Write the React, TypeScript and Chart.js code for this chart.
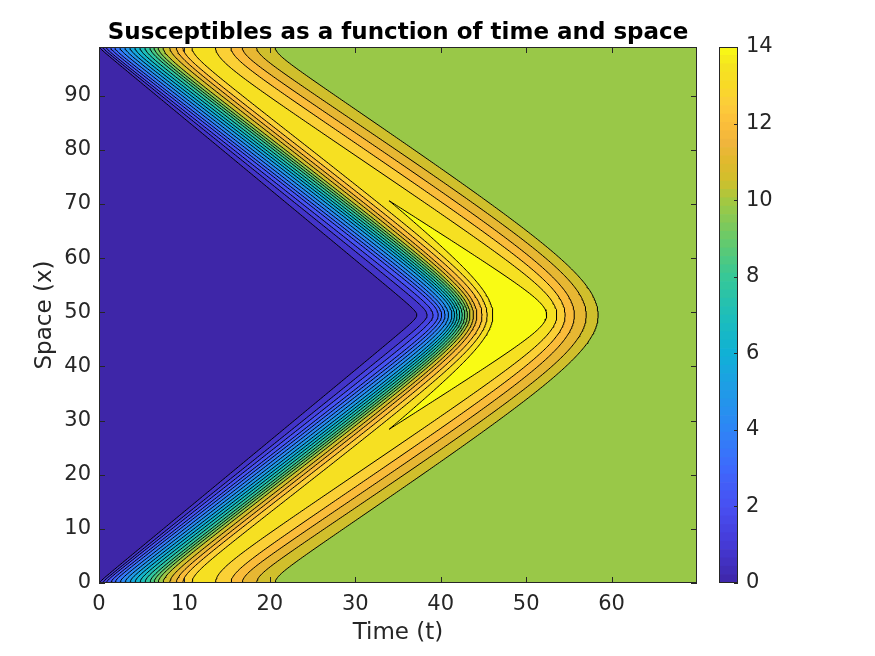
import { useEffect, useRef } from 'react';
import { Chart, registerables } from 'chart.js';

Chart.register(...registerables);

// contourf levels (20 levels between 0 and 14)
const levels = [0.7, 1.4, 2.1, 2.8, 3.5, 4.2, 4.9, 5.6, 6.3, 7.0, 7.7, 8.4, 9.1, 9.8, 10.5, 11.2, 11.9, 12.6, 13.3, 14.0];

// leading front of each level: time where it meets the boundary x = 0 (and x = 99),
// time where it meets the centre x = 49.5, and how round its tip / its foot is (in x units).
// the 14.0 level never reaches the boundary, its foot time is where its line would end.
const riseEdgeT = [0.1, 0.5, 0.9, 1.4, 1.9, 2.5, 3.1, 3.7, 4.3, 4.9, 5.5, 6.1, 6.6, 7.1, 7.7, 8.5, 9.3, 10.1, 11.2, 13.0];
const riseTipT = [37.2, 38.4, 39.1, 39.7, 40.1, 40.5, 40.9, 41.3, 41.6, 41.9, 42.2, 42.5, 42.8, 43.1, 43.4, 43.8, 44.2, 44.8, 45.4, 46.1];
const riseTipRound = [0.8, 1.2, 1.6, 2.0, 2.3, 2.6, 2.9, 3.2, 3.5, 3.7, 3.9, 4.1, 4.3, 4.5, 4.8, 5.1, 5.4, 5.8, 6.2, 6.5];
const riseEdgeRound = [0.3, 0.4, 0.5, 0.6, 0.7, 0.8, 0.9, 1.0, 1.1, 1.2, 1.3, 1.4, 1.5, 1.6, 1.7, 1.8, 1.9, 2.0, 2.0, 0.5];

// trailing front, only for the levels above the steady state (~10)
const fallLevels = [10.5, 11.2, 11.9, 12.6, 13.3, 14.0];
const fallEdgeT = [21.5, 19.2, 17.4, 15.9, 13.9, 5.9];
const fallTipT = [58.4, 57.0, 55.6, 54.5, 53.5, 52.4];
const fallTipRound = [9.5, 8.8, 8.0, 6.8, 5.2, 3.0];
const fallEdgeRound = [1.6, 1.8, 2.0, 2.5, 3.0, 0.3];

const timeTicks = [0, 10, 20, 30, 40, 50, 60];
const spaceTicks = [0, 10, 20, 30, 40, 50, 60, 70, 80, 90];
const colorbarTicks = [0, 2, 4, 6, 8, 10, 12, 14];

const tMax = 70;
const xMax = 99;
const cMax = 14;
const centre = xMax / 2;

const fontFamily = '"DejaVu Sans", sans-serif';
const axisColor = '#262626';

// parula colour stops (value on the 0..14 colour axis, r, g, b)
const parulaStops: number[][] = [
  [0, 62, 38, 168], [1, 69, 58, 214], [2, 72, 80, 242], [3, 62, 105, 252], [4, 46, 133, 246],
  [5, 32, 155, 231], [6, 16, 177, 213], [7, 30, 190, 185], [8, 55, 200, 150], [9, 105, 202, 105],
  [10, 165, 200, 64], [10.5, 208, 191, 44], [11, 225, 185, 45], [11.5, 240, 181, 60], [12, 252, 190, 58],
  [12.5, 252, 205, 58], [13, 248, 218, 38], [13.5, 245, 228, 32], [14, 249, 251, 20],
];

const parula = (v: number): string => {
  const x = Math.max(0, Math.min(cMax, v));
  for (let i = 1; i < parulaStops.length; i++) {
    const a = parulaStops[i - 1];
    const b = parulaStops[i];
    if (x <= b[0]) {
      const f = (x - a[0]) / (b[0] - a[0]);
      const c = [1, 2, 3].map(k => Math.round(a[k] + (b[k] - a[k]) * f));
      return `rgb(${c[0]},${c[1]},${c[2]})`;
    }
  }
  return 'rgb(249,251,20)';
};

// time of a front at distance d from the nearest boundary
const frontTime = (edgeT: number, tipT: number, tipRound: number, edgeRound: number, d: number): number => {
  const s = (tipT - edgeT) / (centre - tipRound - edgeRound);
  const a0 = edgeT - s * edgeRound;
  const u = centre - d;
  return a0 + s * d + s * (Math.hypot(d, edgeRound) - d) - s * (Math.hypot(u, tipRound) - u);
};

const sampleX: number[] = [];
for (let x = 0; x <= xMax + 1e-9; x += 0.25) sampleX.push(x);

const dist = (x: number) => Math.min(x, xMax - x);

const riseAt = (i: number, x: number) =>
  frontTime(riseEdgeT[i], riseTipT[i], riseTipRound[i], riseEdgeRound[i], dist(x));
const fallAt = (j: number, x: number) =>
  frontTime(fallEdgeT[j], fallTipT[j], fallTipRound[j], fallEdgeRound[j], dist(x));

const buildDatasets = () => {
  const fills: any[] = [];
  const lines: any[] = [];
  const lineStyle = { showLine: true, fill: false, borderColor: '#000', borderWidth: 1, pointRadius: 0, order: 0 };

  levels.forEach((level, i) => {
    const j = fallLevels.indexOf(level);
    const color = parula(level);
    if (level >= cMax) {
      // closed island of the top level near the centre
      let dJoin = 0;
      for (let d = 0; d <= centre; d += 0.02) {
        if (fallAt(j, d) > riseAt(i, d)) { dJoin = d; break; }
      }
      const xs = sampleX.filter(x => x > dJoin && x < xMax - dJoin);
      const pts = [
        { x: riseAt(i, dJoin), y: dJoin },
        ...xs.map(x => ({ x: riseAt(i, x), y: x })),
        { x: riseAt(i, xMax - dJoin), y: xMax - dJoin },
        ...xs.slice().reverse().map(x => ({ x: fallAt(j, x), y: x })),
        { x: riseAt(i, dJoin), y: dJoin },
      ];
      fills.push({ data: pts, showLine: true, fill: 'shape', backgroundColor: color, borderWidth: 0, pointRadius: 0, order: 100 - i });
      lines.push({ ...lineStyle, data: pts });
      return;
    }
    const rise = sampleX.map(x => ({ x: riseAt(i, x), y: x }));
    const fall = j >= 0 ? sampleX.map(x => ({ x: fallAt(j, x), y: x })) : null;
    const shape = fall
      ? [...rise, ...fall.slice().reverse()]
      : [...rise, { x: tMax + 5, y: xMax + 5 }, { x: tMax + 5, y: -5 }];
    fills.push({ data: shape, showLine: true, fill: 'shape', backgroundColor: color, borderWidth: 0, pointRadius: 0, order: 100 - i });
    lines.push({ ...lineStyle, data: rise });
    if (fall) lines.push({ ...lineStyle, data: fall });
  });
  return [...fills, ...lines];
};

const framePlugin = {
  id: 'frame',
  beforeDatasetsDraw(chart: any) {
    const { ctx, chartArea: a } = chart;
    ctx.save();
    ctx.fillStyle = parula(0);
    ctx.fillRect(a.left, a.top, a.right - a.left, a.bottom - a.top);
    ctx.restore();
  },
  afterDraw(chart: any) {
    const { ctx, chartArea: a, scales } = chart;
    const len = 6;
    ctx.save();
    ctx.strokeStyle = axisColor;
    ctx.lineWidth = 1;
    ctx.beginPath();
    for (const t of scales.x.ticks) {
      const px = Math.round(scales.x.getPixelForValue(t.value)) + 0.5;
      ctx.moveTo(px, a.bottom); ctx.lineTo(px, a.bottom - len);
      ctx.moveTo(px, a.top); ctx.lineTo(px, a.top + len);
    }
    for (const t of scales.y.ticks) {
      const py = Math.round(scales.y.getPixelForValue(t.value)) + 0.5;
      ctx.moveTo(a.left, py); ctx.lineTo(a.left + len, py);
      ctx.moveTo(a.right, py); ctx.lineTo(a.right - len, py);
    }
    ctx.stroke();
    ctx.strokeRect(a.left + 0.5, a.top + 0.5, a.right - a.left - 1, a.bottom - a.top - 1);
    ctx.restore();
  },
};

const colorbarFrame = {
  id: 'cbframe',
  afterDraw(chart: any) {
    const { ctx, chartArea: a, scales } = chart;
    ctx.save();
    ctx.strokeStyle = axisColor;
    ctx.lineWidth = 1;
    ctx.beginPath();
    for (const t of scales.y.ticks) {
      const py = Math.round(scales.y.getPixelForValue(t.value)) + 0.5;
      ctx.moveTo(a.right, py); ctx.lineTo(a.right - 4, py);
    }
    ctx.stroke();
    ctx.strokeRect(a.left + 0.5, a.top + 0.5, a.right - a.left - 1, a.bottom - a.top - 1);
    ctx.restore();
  },
};

const ContourChart = () => {
  const canvasRef = useRef(null as HTMLCanvasElement | null);
  const barRef = useRef(null as HTMLCanvasElement | null);

  useEffect(() => {
    if (!canvasRef.current || !barRef.current) return;
    const ctx = canvasRef.current.getContext('2d');
    const ctx2 = barRef.current.getContext('2d');
    if (!ctx || !ctx2) return;

    const tickFont = { family: fontFamily, size: 21 };
    const labelFont = { family: fontFamily, size: 23 };

    const chart = new Chart(ctx, {
      type: 'scatter',
      data: { datasets: buildDatasets() },
      options: {
        animation: false,
        responsive: false,
        layout: { padding: { left: 0, right: 178, top: 0, bottom: 0 } },
        plugins: {
          legend: { display: false },
          tooltip: { enabled: false },
          title: {
            display: true,
            text: 'Susceptibles as a function of time and space',
            fullSize: false,
            color: '#000',
            font: { family: fontFamily, size: 23, weight: 'bold', lineHeight: 1.2 },
            padding: { top: 19, bottom: 0.4 },
          },
        },
        scales: {
          x: {
            type: 'linear',
            min: 0,
            max: tMax,
            grid: { display: false, drawTicks: false },
            border: { display: false },
            ticks: { color: axisColor, font: tickFont, padding: 9 },
            afterBuildTicks: (s: any) => { s.ticks = timeTicks.map(value => ({ value })); },
            afterFit: (s: any) => { s.height = 73; },
            title: { display: true, text: 'Time (t)', color: axisColor, font: labelFont, padding: { top: 0, bottom: 9 } },
          },
          y: {
            type: 'linear',
            min: 0,
            max: xMax,
            grid: { display: false, drawTicks: false },
            border: { display: false },
            ticks: { color: axisColor, font: tickFont, padding: 8 },
            afterBuildTicks: (s: any) => { s.ticks = spaceTicks.map(value => ({ value })); },
            afterFit: (s: any) => { s.width = 99; },
            title: { display: true, text: 'Space (x)', color: axisColor, font: labelFont, padding: { top: 31, bottom: 0 } },
          },
        },
      } as any,
      plugins: [framePlugin],
    });

    // colour bar: the parula map cut in bands
    const bandCount = 64;
    const bands = Array.from({ length: bandCount }, (_, k) => k);
    const colorbar = new Chart(ctx2, {
      type: 'bar',
      data: {
        labels: [''],
        datasets: bands.map(k => ({
          data: [cMax / bandCount],
          backgroundColor: parula(((k + 0.5) / bandCount) * cMax),
          borderWidth: 0,
          barPercentage: 1,
          categoryPercentage: 1,
        })),
      },
      options: {
        animation: false,
        responsive: false,
        layout: { padding: { left: 19, right: 0, top: 47, bottom: 73 } },
        plugins: { legend: { display: false }, tooltip: { enabled: false } },
        scales: {
          x: { display: false, stacked: true },
          y: {
            stacked: true,
            position: 'right',
            min: 0,
            max: cMax,
            grid: { display: false, drawTicks: false },
            border: { display: false },
            ticks: { color: axisColor, font: tickFont, padding: 8 },
            afterBuildTicks: (s: any) => { s.ticks = colorbarTicks.map(value => ({ value })); },
            afterFit: (s: any) => { s.width = 137; },
          },
        },
      } as any,
      plugins: [colorbarFrame],
    });

    return () => {
      chart.destroy();
      colorbar.destroy();
    };
  }, []);

  return (
    <div style={{ position: 'fixed', left: 0, top: 0, width: 875, height: 656, background: '#fff' }}>
      <canvas ref={canvasRef} width={875} height={656} style={{ position: 'absolute', left: 0, top: 0 }} />
      <canvas ref={barRef} width={175} height={656} style={{ position: 'absolute', left: 700, top: 0 }} />
    </div>
  );
};

export default function App() {
  return <ContourChart />;
}
